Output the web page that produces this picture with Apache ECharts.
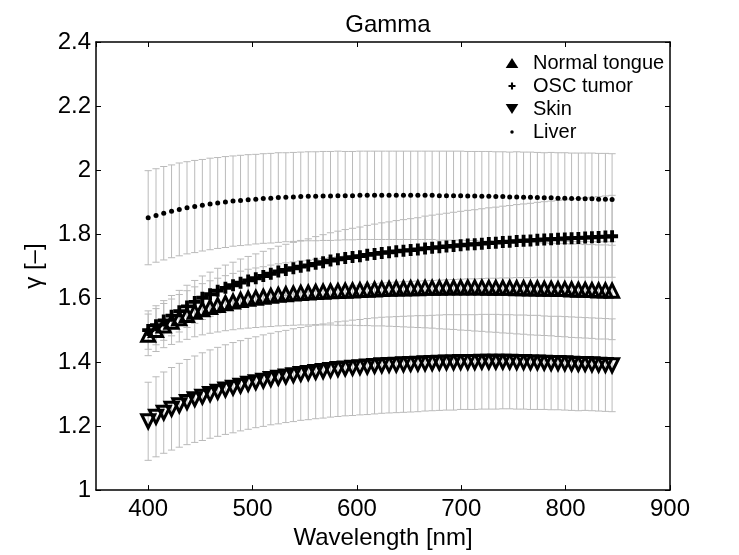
<!DOCTYPE html>
<html><head><meta charset="utf-8">
<script src="https://cdn.jsdelivr.net/npm/echarts@6/dist/echarts.min.js"></script>
<style>html,body{margin:0;padding:0;background:#fff}#c{width:739px;height:555px}</style>
</head><body><div id="c"></div>
<script>
const wavelength = [400,407.5,414.9,422.4,429.8,437.2,444.6,451.9,459.3,466.6,474.0,481.3,488.5,495.8,503.1,510.3,517.5,524.7,531.9,539.1,546.2,553.4,560.5,567.6,574.7,581.8,588.8,595.8,602.9,609.9,616.9,623.8,630.8,637.7,644.6,651.5,658.4,665.3,672.1,679.0,685.8,692.6,699.4,706.2,712.9,719.7,726.4,733.1,739.8,746.4,753.1,759.7,766.3,772.9,779.5,786.1,792.7,799.2,805.7,812.2,818.7,825.2,831.6,838.1,844.5];

const tongueMean = [1.485,1.500,1.514,1.526,1.537,1.547,1.557,1.565,1.572,1.578,1.584,1.589,1.594,1.598,1.601,1.604,1.607,1.610,1.612,1.614,1.616,1.617,1.619,1.620,1.621,1.622,1.623,1.624,1.625,1.626,1.627,1.628,1.629,1.630,1.630,1.631,1.631,1.632,1.632,1.632,1.633,1.633,1.633,1.633,1.633,1.633,1.632,1.632,1.632,1.632,1.631,1.631,1.630,1.630,1.629,1.629,1.628,1.628,1.627,1.626,1.626,1.625,1.624,1.624,1.623];
const tongueErr = [0.065,0.067,0.069,0.071,0.074,0.076,0.078,0.080,0.082,0.084,0.086,0.088,0.090,0.092,0.093,0.094,0.096,0.097,0.098,0.099,0.100,0.101,0.102,0.104,0.105,0.107,0.108,0.109,0.111,0.112,0.114,0.115,0.117,0.119,0.120,0.122,0.123,0.125,0.126,0.128,0.130,0.131,0.133,0.134,0.136,0.137,0.138,0.139,0.141,0.142,0.143,0.144,0.145,0.146,0.146,0.147,0.148,0.149,0.150,0.150,0.151,0.151,0.152,0.152,0.153];

const oscMean = [1.500,1.515,1.530,1.545,1.559,1.574,1.588,1.601,1.612,1.623,1.632,1.640,1.648,1.655,1.662,1.669,1.676,1.683,1.688,1.693,1.698,1.702,1.707,1.712,1.717,1.721,1.725,1.728,1.731,1.735,1.738,1.741,1.743,1.746,1.748,1.750,1.752,1.755,1.757,1.759,1.761,1.763,1.765,1.767,1.768,1.770,1.772,1.773,1.775,1.776,1.778,1.779,1.780,1.782,1.783,1.784,1.785,1.786,1.787,1.788,1.789,1.790,1.791,1.792,1.793];
const oscErr = [0.060,0.061,0.062,0.063,0.065,0.066,0.067,0.068,0.069,0.070,0.071,0.072,0.074,0.075,0.076,0.077,0.078,0.079,0.080,0.081,0.082,0.083,0.085,0.086,0.087,0.088,0.089,0.090,0.091,0.092,0.093,0.094,0.095,0.096,0.097,0.098,0.099,0.101,0.102,0.103,0.104,0.105,0.106,0.107,0.108,0.109,0.110,0.111,0.112,0.113,0.114,0.115,0.116,0.117,0.118,0.119,0.120,0.121,0.122,0.123,0.124,0.125,0.126,0.127,0.128];

const skinMean = [1.215,1.229,1.242,1.254,1.265,1.275,1.284,1.292,1.300,1.307,1.314,1.320,1.326,1.332,1.337,1.342,1.347,1.351,1.355,1.359,1.363,1.366,1.369,1.372,1.375,1.378,1.380,1.382,1.384,1.386,1.388,1.390,1.391,1.392,1.393,1.394,1.395,1.396,1.397,1.398,1.399,1.399,1.400,1.400,1.400,1.401,1.401,1.401,1.401,1.401,1.400,1.400,1.399,1.399,1.398,1.397,1.397,1.396,1.395,1.394,1.394,1.393,1.392,1.391,1.390];
const skinErr = [0.122,0.125,0.127,0.129,0.131,0.133,0.135,0.137,0.138,0.139,0.140,0.141,0.141,0.142,0.142,0.143,0.143,0.144,0.144,0.145,0.145,0.146,0.146,0.147,0.147,0.148,0.148,0.149,0.149,0.150,0.150,0.150,0.150,0.150,0.150,0.150,0.150,0.149,0.149,0.149,0.149,0.149,0.148,0.148,0.148,0.148,0.148,0.148,0.147,0.147,0.147,0.147,0.147,0.147,0.146,0.146,0.146,0.146,0.146,0.146,0.145,0.145,0.145,0.145,0.145];

const liverMean = [1.851,1.858,1.865,1.871,1.877,1.882,1.886,1.890,1.894,1.897,1.900,1.903,1.905,1.907,1.909,1.911,1.912,1.914,1.915,1.916,1.917,1.918,1.918,1.919,1.919,1.920,1.920,1.920,1.921,1.921,1.921,1.921,1.921,1.921,1.921,1.921,1.921,1.921,1.921,1.920,1.920,1.920,1.920,1.919,1.919,1.918,1.918,1.917,1.917,1.916,1.916,1.915,1.915,1.914,1.913,1.913,1.912,1.912,1.911,1.911,1.910,1.910,1.909,1.909,1.908];
const liverErr = [0.147,0.146,0.146,0.145,0.145,0.144,0.144,0.143,0.143,0.142,0.142,0.141,0.141,0.141,0.140,0.140,0.140,0.140,0.139,0.139,0.139,0.139,0.139,0.139,0.139,0.139,0.138,0.138,0.138,0.138,0.138,0.138,0.138,0.138,0.138,0.138,0.138,0.138,0.138,0.139,0.139,0.139,0.139,0.139,0.139,0.140,0.140,0.140,0.140,0.140,0.141,0.141,0.141,0.141,0.141,0.142,0.142,0.142,0.142,0.142,0.143,0.143,0.143,0.143,0.143];

const seriesNames = ['Normal tongue', 'OSC tumor', 'Skin', 'Liver'];
const xTickLabels = [400, 500, 600, 700, 800, 900];
const yTickLabels = [1, 1.2, 1.4, 1.6, 1.8, 2, 2.2, 2.4];

const FONT = "'Liberation Sans', Arial, Helvetica, sans-serif";
const GRAY = '#bababa';

function errSeries(name, mean, err) {
  return {
    type: 'custom', name: name + ' error', silent: true, z: 1,
    data: wavelength.map((w, i) => [w, mean[i] - err[i], mean[i] + err[i]]),
    encode: { x: 0, y: [1, 2] },
    renderItem(params, api) {
      const x = api.value(0);
      const lo = api.coord([x, api.value(1)]);
      const hi = api.coord([x, api.value(2)]);
      const cw = 3.6;
      const st = { stroke: GRAY, lineWidth: 1 };
      return { type: 'group', children: [
        { type: 'line', shape: { x1: lo[0], y1: lo[1], x2: hi[0], y2: hi[1] }, style: st },
        { type: 'line', shape: { x1: lo[0] - cw, y1: lo[1], x2: lo[0] + cw, y2: lo[1] }, style: st },
        { type: 'line', shape: { x1: hi[0] - cw, y1: hi[1], x2: hi[0] + cw, y2: hi[1] }, style: st }
      ]};
    }
  };
}

function pts(mean) { return wavelength.map((w, i) => [w, mean[i]]); }

const PLUS = 'path://M3.4,0H6.6V3.4H10V6.6H6.6V10H3.4V6.6H0V3.4H3.4Z';

const axisCommon = {
  axisLine: { show: true, onZero: false, lineStyle: { color: '#000', width: 1.5 } },
  axisTick: { show: true, inside: true, length: 5, lineStyle: { color: '#000', width: 1 } },
  splitLine: { show: false }
};

const chart = echarts.init(document.getElementById('c'), null, { renderer: 'canvas' });
chart.setOption({
  animation: false,
  backgroundColor: '#fff',
  title: {
    text: 'Gamma', left: 383, top: 8, textAlign: 'center',
    textStyle: { fontFamily: FONT, fontSize: 24, fontWeight: 'normal', color: '#000' }
  },
  grid: { left: 96, top: 42, right: 69, bottom: 62, containLabel: false },
  legend: {
    orient: 'vertical', left: 500, top: 48, itemWidth: 32, itemHeight: 14, itemGap: 3,
    textStyle: { fontFamily: FONT, fontSize: 20, color: '#000' },
    data: [
      { name: seriesNames[0], icon: 'path://M0,0M20,20M10,3L19,17L1,17Z', itemStyle: { color: '#000', borderWidth: 0 } },
      { name: seriesNames[1], icon: 'path://M0,0M20,20M8.5,5H11.5V8.5H15V11.5H11.5V15H8.5V11.5H5V8.5H8.5Z', itemStyle: { color: '#000', borderWidth: 0 } },
      { name: seriesNames[2], icon: 'path://M0,0M20,20M1,3L19,3L10,17Z', itemStyle: { color: '#000', borderWidth: 0 } },
      { name: seriesNames[3], icon: 'path://M0,0M20,20M7.5,10A2.5,2.5 0 1,0 12.5,10A2.5,2.5 0 1,0 7.5,10Z', itemStyle: { color: '#000', borderWidth: 0 } }
    ]
  },
  xAxis: [
    Object.assign({}, axisCommon, {
      type: 'value', min: 350, max: 900, position: 'bottom',
      name: 'Wavelength [nm]', nameLocation: 'middle', nameGap: 28,
      nameTextStyle: { fontFamily: FONT, fontSize: 24, color: '#000' },
      axisLabel: {
        showMinLabel: false, fontFamily: FONT, fontSize: 24, color: '#000', margin: 7,
        formatter: v => xTickLabels.includes(Math.round(v)) ? String(Math.round(v)) : ''
      }
    }),
    Object.assign({}, axisCommon, {
      type: 'value', min: 350, max: 900, position: 'top', axisLabel: { show: false }
    })
  ],
  yAxis: [
    Object.assign({}, axisCommon, {
      type: 'value', min: 1, max: 2.4, interval: 0.2, position: 'left',
      name: 'γ [–]', nameLocation: 'middle', nameGap: 46,
      nameTextStyle: { fontFamily: FONT, fontSize: 24, color: '#000' },
      axisLabel: {
        fontFamily: FONT, fontSize: 24, color: '#000', margin: 5,
        formatter: v => { const t = yTickLabels.find(y => Math.abs(y - v) < 1e-6); return t === undefined ? '' : String(t); }
      }
    }),
    Object.assign({}, axisCommon, {
      type: 'value', min: 1, max: 2.4, interval: 0.2, position: 'right', axisLabel: { show: false }
    })
  ],
  series: [
    errSeries(seriesNames[3], liverMean, liverErr),
    errSeries(seriesNames[1], oscMean, oscErr),
    errSeries(seriesNames[0], tongueMean, tongueErr),
    errSeries(seriesNames[2], skinMean, skinErr),
    { type: 'scatter', name: seriesNames[3], data: pts(liverMean), symbol: 'circle', symbolSize: 5, z: 3, silent: true,
      itemStyle: { color: '#000', opacity: 1 } },
    { type: 'scatter', name: seriesNames[1], data: pts(oscMean), symbol: PLUS, symbolSize: 12, z: 3, silent: true,
      itemStyle: { color: '#000', opacity: 1 } },
    { type: 'scatter', name: seriesNames[0], data: pts(tongueMean), symbol: 'triangle', symbolSize: 13, z: 3, silent: true,
      itemStyle: { color: 'rgba(255,255,255,0)', borderColor: '#000', borderWidth: 3, opacity: 1 } },
    { type: 'scatter', name: seriesNames[2], data: pts(skinMean), symbol: 'triangle', symbolRotate: 180, symbolSize: 13, z: 3, silent: true,
      itemStyle: { color: 'rgba(255,255,255,0)', borderColor: '#000', borderWidth: 3, opacity: 1 } }
  ]
});
</script>
</body></html>
